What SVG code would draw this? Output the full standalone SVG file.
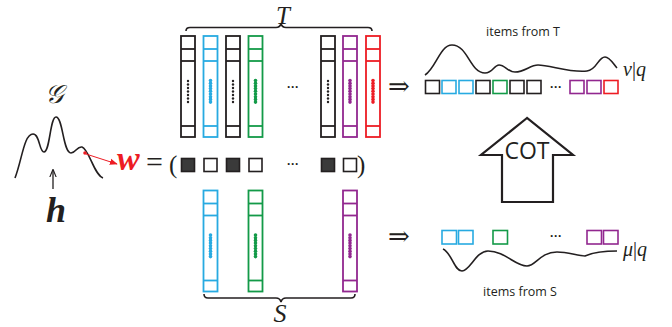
<svg xmlns="http://www.w3.org/2000/svg" width="672" height="327" viewBox="0 0 672 327">
  <defs>
    <style>
      .col { fill: #fff; stroke-width: 1.8; }
      .div { stroke-width: 1.8; }
      .k { stroke: #231f20; }
      .b { stroke: #27aae1; }
      .g { stroke: #139a48; }
      .p { stroke: #92278f; }
      .r { stroke: #ed1c24; }
      .dk { fill: #231f20; }
      .db { fill: #27aae1; }
      .dg { fill: #139a48; }
      .dp { fill: #92278f; }
      .dr { fill: #ed1c24; }
      .sq { fill: #fff; stroke-width: 1.6; }
      .sqf { fill: #3a3a3a; stroke: #231f20; stroke-width: 1.6; }
      .curve { fill: none; stroke: #231f20; stroke-width: 1.6; }
      .math { font-family: "Liberation Serif", "DejaVu Serif", serif; font-style: italic; fill: #231f20; }
      .up { font-family: "Liberation Serif", "DejaVu Serif", serif; fill: #231f20; }
      .ell { font-family: "Liberation Sans", sans-serif; font-weight: bold; fill: #231f20; }
      .lbl { font-family: "Open Sans", "Liberation Sans", sans-serif; fill: #231f20; }
    </style>
    <!-- one column of the item matrix; stroke colour comes from the class on <use> -->
    <g id="colBody">
      <rect class="col" x="0" y="0" width="14" height="101"/>
      <line class="div" x1="0" y1="13" x2="14" y2="13"/>
      <line class="div" x1="0" y1="25" x2="14" y2="25"/>
      <line class="div" x1="0" y1="90" x2="14" y2="90"/>
    </g>
    <g id="dotsK">
      <circle cx="7" cy="45" r="1.2"/><circle cx="7" cy="48.5" r="1.2"/><circle cx="7" cy="52" r="1.2"/>
      <circle cx="7" cy="55.5" r="1.2"/><circle cx="7" cy="59" r="1.2"/><circle cx="7" cy="62.5" r="1.2"/>
      <circle cx="7" cy="66" r="1.2"/>
    </g>
    <g id="dotsC">
      <circle cx="7" cy="44.5" r="1.8"/><circle cx="7" cy="47.2" r="1.8"/><circle cx="7" cy="49.9" r="1.8"/>
      <circle cx="7" cy="52.6" r="1.8"/><circle cx="7" cy="55.3" r="1.8"/><circle cx="7" cy="58" r="1.8"/>
      <circle cx="7" cy="60.7" r="1.8"/><circle cx="7" cy="63.4" r="1.8"/><circle cx="7" cy="66.1" r="1.8"/>
    </g>
    <marker id="redHead" viewBox="0 0 10 10" refX="9" refY="5" markerWidth="8" markerHeight="8" orient="auto" markerUnits="userSpaceOnUse">
      <path d="M0,1 L10,5 L0,9 Z" fill="#ed1c24"/>
    </marker>
    <marker id="blackHead" viewBox="0 0 10 10" refX="9" refY="5" markerWidth="8" markerHeight="8" orient="auto" markerUnits="userSpaceOnUse">
      <path d="M0,1 L10,5 L0,9" fill="none" stroke="#231f20" stroke-width="1.4"/>
    </marker>
  </defs>

  <rect width="672" height="327" fill="#fff"/>

  <!-- generator G over the score distribution -->
  <g id="generator">
    <text class="math" x="54" y="103" font-size="26" text-anchor="middle">𝒢</text>
    <path class="curve" d="M15,178 C22,160 24,134 33,134 C40,134 39,152 44,152 C50,152 50,117 56,117 C63,117 63,153 71,153 C76,153 77,146 82,147 C89,149 94,175 103,178"/>
    <circle cx="85" cy="153" r="1.8" fill="#ed1c24"/>
  </g>

  <g id="query">
    <text class="math" x="56" y="222" font-size="36" font-weight="bold" text-anchor="middle">h</text>
  </g>

  <g id="weights">
    <text class="math" x="117" y="170" font-size="34" font-weight="bold" style="fill:#ed1c24">w</text>
    <text class="up" x="146" y="172" font-size="30">=</text>
    <text class="up" x="169" y="173" font-size="25">(</text>
    <rect class="sqf" x="181.5" y="158.5" width="13" height="13"/>
    <rect class="sq k" x="204" y="158.5" width="13" height="13"/>
    <rect class="sqf" x="226.5" y="158.5" width="13" height="13"/>
    <rect class="sq k" x="249" y="158.5" width="13" height="13"/>
    <text class="ell" x="293" y="168" font-size="12" text-anchor="middle">···</text>
    <rect class="sqf" x="321.5" y="158.5" width="13" height="13"/>
    <rect class="sq k" x="343.5" y="158.5" width="13" height="13"/>
    <text class="up" x="357" y="173" font-size="25">)</text>
  </g>

  <!-- target item matrix T -->
  <g id="targetItems">
    <text class="math" x="283" y="23.5" font-size="25" text-anchor="middle">T</text>
    <path class="curve" stroke-width="1.3" d="M186,31 Q186,27.5 190,27.5 L276,27.5 Q280,27.5 281,23.5 Q282,27.5 286,27.5 L368,27.5 Q372,27.5 372,31"/>
    <use href="#colBody" class="k" x="181" y="36"/>
    <use href="#dotsK" class="dk" x="181" y="36"/>
    <use href="#colBody" class="b" x="203.5" y="36"/>
    <use href="#dotsC" class="db" x="203.5" y="36"/>
    <use href="#colBody" class="k" x="226" y="36"/>
    <use href="#dotsK" class="dk" x="226" y="36"/>
    <use href="#colBody" class="g" x="248.5" y="36"/>
    <use href="#dotsC" class="dg" x="248.5" y="36"/>
    <text class="ell" x="293" y="91" font-size="12" text-anchor="middle">···</text>
    <use href="#colBody" class="k" x="321" y="36"/>
    <use href="#dotsK" class="dk" x="321" y="36"/>
    <use href="#colBody" class="p" x="343" y="36"/>
    <use href="#dotsC" class="dp" x="343" y="36"/>
    <use href="#colBody" class="r" x="366" y="36"/>
    <use href="#dotsC" class="dr" x="366" y="36"/>
  </g>

  <!-- source item matrix S -->
  <g id="sourceItems">
    <use href="#colBody" class="b" x="203.5" y="190.5"/>
    <use href="#dotsC" class="db" x="203.5" y="190.5"/>
    <use href="#colBody" class="g" x="248.5" y="190.5"/>
    <use href="#dotsC" class="dg" x="248.5" y="190.5"/>
    <use href="#colBody" class="p" x="343" y="190.5"/>
    <use href="#dotsC" class="dp" x="343" y="190.5"/>
    <path class="curve" stroke-width="1.3" d="M204,294 Q204,298 208,298 L276,298 Q280,298 281,302 Q282,298 286,298 L351,298 Q355,298 355,294"/>
    <text class="math" x="280" y="322" font-size="26" text-anchor="middle">S</text>
  </g>

  <!-- distribution over target items -->
  <g id="targetDist">
    <text class="lbl" x="523" y="36" font-size="12.5" text-anchor="middle">items from T</text>
    <path class="curve" d="M425,75 C436,68 440,45 452,45 C468,45 470,73 485,73 C493,73 494,65 499,65 C505,65 508,72 515,72 C525,72 530,65 538,65 C550,65 570,73 587,71 C597,70 598,57 605,57 C610,57 614,65 617,68"/>
    <text class="math" x="623" y="76" font-size="20">ν<tspan font-style="normal">|</tspan>q</text>
    <rect class="sq k" x="425.5" y="80.5" width="14" height="13"/>
    <rect class="sq b" x="442" y="80.5" width="14" height="13"/>
    <rect class="sq b" x="459" y="80.5" width="14" height="13"/>
    <rect class="sq k" x="476" y="80.5" width="14" height="13"/>
    <rect class="sq g" x="493" y="80.5" width="14" height="13"/>
    <rect class="sq k" x="510" y="80.5" width="14" height="13"/>
    <rect class="sq k" x="527" y="80.5" width="14" height="13"/>
    <text class="ell" x="556" y="91" font-size="12" text-anchor="middle">···</text>
    <rect class="sq p" x="570" y="80.5" width="14" height="13"/>
    <rect class="sq p" x="587" y="80.5" width="14" height="13"/>
    <rect class="sq r" x="604" y="80.5" width="14" height="13"/>
  </g>

  <!-- distribution over source items -->
  <g id="sourceDist">
    <rect class="sq b" x="442" y="230.5" width="14.5" height="13.5"/>
    <rect class="sq b" x="458.5" y="230.5" width="14.5" height="13.5"/>
    <rect class="sq g" x="493" y="230.5" width="14.5" height="13.5"/>
    <text class="ell" x="556" y="240" font-size="12" text-anchor="middle">···</text>
    <rect class="sq p" x="587" y="230.5" width="14.5" height="13.5"/>
    <rect class="sq p" x="603.5" y="230.5" width="14.5" height="13.5"/>
    <path class="curve" d="M443,249 C452,253 454,271 462,271 C470,271 476,251 488,251 C505,251 515,266 527,266 C536,266 540,252 557,252 C568,252 578,256 585,256 C592,253 600,251 617,251"/>
    <text class="math" x="623" y="256" font-size="20">μ<tspan font-style="normal">|</tspan>q</text>
    <text class="lbl" x="520" y="296" font-size="12.5" text-anchor="middle">items from S</text>
  </g>

  <!-- transport step -->
  <g id="cot">
    <path d="M527,118 L481,155 L502,155 L502,202 L553,202 L553,155 L573,155 Z" fill="#fff" stroke="#231f20" stroke-width="2.2" stroke-linejoin="miter"/>
    <text class="lbl" x="527" y="159" font-size="23" text-anchor="middle">COT</text>
  </g>

  <g id="connectors">
    <line x1="86" y1="154" x2="117" y2="164" stroke="#ed1c24" stroke-width="1" marker-end="url(#redHead)"/>
    <line x1="53" y1="189" x2="53" y2="170" stroke="#231f20" stroke-width="1.3" marker-end="url(#blackHead)"/>
    <text class="up" x="399" y="95" font-size="26" text-anchor="middle">⇒</text>
    <text class="up" x="399" y="245" font-size="26" text-anchor="middle">⇒</text>
  </g>
</svg>
